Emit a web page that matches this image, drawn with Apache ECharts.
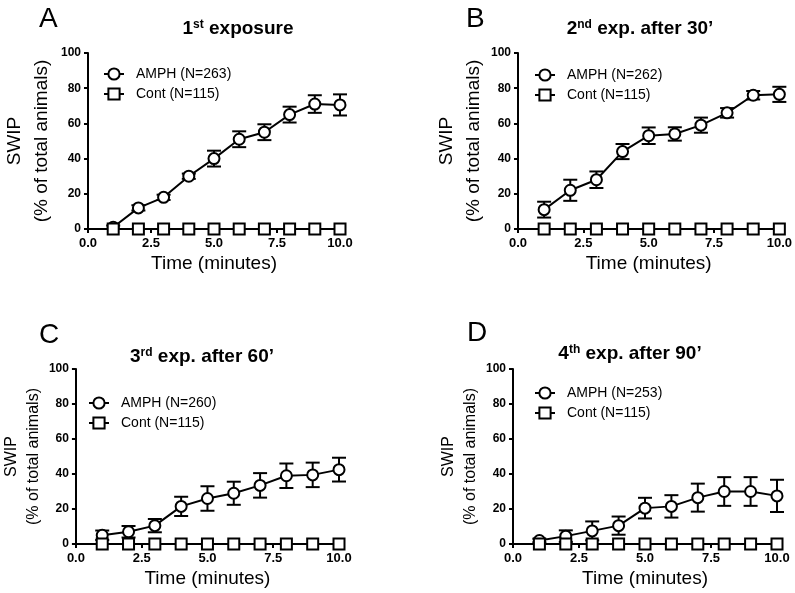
<!DOCTYPE html>
<html><head><meta charset="utf-8">
<script src="https://cdn.jsdelivr.net/npm/echarts@6/dist/echarts.min.js"></script>
<style>html,body{margin:0;padding:0;background:#fff}#c{width:795px;height:593px}</style>
</head><body><div id="c"></div>
<script>
const minutes = [1,2,3,4,5,6,7,8,9,10];
const xTicks = [0, 2.5, 5, 7.5, 10];
const yTicks = [0, 20, 40, 60, 80, 100];
const panelLetters = ['A','B','C','D'];
const panelTitles = ['1{s|st} exposure', '2{s|nd} exp. after 30\u2019', '3{s|rd} exp. after 60\u2019', '4{s|th} exp. after 90\u2019'];
const amphNames = ['AMPH (N=263)', 'AMPH (N=262)', 'AMPH (N=260)', 'AMPH (N=253)'];
const contName = 'Cont (N=115)';
const amphA = [1, 12, 18, 30, 40, 51, 55, 65, 71, 70.5];
const errA  = [1, 1.5, 1.5, 1.5, 4.5, 4.5, 4.5, 4.5, 5, 6];
const amphB = [11, 22, 28, 44, 53, 54, 59, 66, 76, 76.5];
const errB  = [4.5, 6, 4.7, 4.3, 4.7, 3.8, 4.3, 2.7, 2.4, 4.3];
const amphC = [5, 7, 10.5, 21.5, 26, 29, 33.5, 39, 39.5, 42.5];
const errC  = [2.7, 3.3, 3.8, 5.5, 7, 6.6, 7, 7, 7, 6.8];
const amphD = [2, 4.5, 7.5, 10.5, 20.5, 21.5, 26.5, 30, 30, 27.5];
const errD  = [1, 3.3, 5.4, 5.2, 5.9, 6.4, 8, 8.2, 8.2, 9.2];
const contA = [0,0,0,0,0,0,0,0,0,0];
const contB = [0,0,0,0,0,0,0,0,0,0];
const contC = [0,0,0,0,0,0,0,0,0,0];
const contD = [0,0,0,0,0,0,0,0,0,0];

const amph = [amphA, amphB, amphC, amphD];
const errs = [errA, errB, errC, errD];
const conts = [contA, contB, contC, contD];

const FONT = '"Liberation Sans", Arial, sans-serif';
const grids = [
  {left: 79, top: 53, width: 261, height: 176},
  {left: 518, top: 53, width: 262, height: 176},
  {left: 69, top: 369, width: 270, height: 175},
  {left: 513, top: 369, width: 264, height: 175}
];
const yNameGap = [33, 31, 27, 28];
const yNameSize = [19, 19, 16, 16];
const yNameLH = [27, 27, 22, 22];
const titlePos = [[233, 14], [635, 14], [197, 342], [625, 339]];
const letterPos = [[34, 0], [461, 0], [34, 316], [462, 314]];
const legendPos = [[103, 67], [534, 68], [88, 396], [534, 386]];

const option = {
  animation: false,
  backgroundColor: '#fff',
  textStyle: {fontFamily: FONT},
  title: [],
  grid: grids.map(g => Object.assign({containLabel: false}, g)),
  xAxis: [], yAxis: [], legend: [], series: []
};

for (let i = 0; i < 4; i++) {
  option.title.push({
    text: panelTitles[i], left: titlePos[i][0], top: titlePos[i][1], textAlign: 'center',
    textStyle: {fontFamily: FONT, fontSize: 19, fontWeight: 'bold', color: '#000',
      rich: {s: {fontFamily: FONT, fontSize: 12, fontWeight: 'bold', verticalAlign: 'top', color: '#000'}}}
  });
  option.title.push({
    text: panelLetters[i], left: letterPos[i][0], top: letterPos[i][1],
    textStyle: {fontFamily: FONT, fontSize: 28, fontWeight: 'normal', color: '#000'}
  });
  option.xAxis.push({
    type: 'value', gridIndex: i, min: xTicks[0], max: xTicks[xTicks.length-1], interval: 2.5,
    name: 'Time (minutes)', nameLocation: 'middle', nameGap: 25,
    nameTextStyle: {fontFamily: FONT, fontSize: 19, color: '#000'},
    axisLine: {show: true, onZero: false, lineStyle: {color: '#000', width: 2}},
    axisTick: {show: true, length: 4, lineStyle: {color: '#000', width: 2}},
    axisLabel: {fontFamily: FONT, fontSize: 13, fontWeight: 'bold', color: '#000', margin: 8,
      formatter: v => v.toFixed(1)},
    splitLine: {show: false}
  });
  option.yAxis.push({
    type: 'value', gridIndex: i, min: yTicks[0], max: yTicks[yTicks.length-1], interval: 20,
    name: 'SWIP\n(% of total animals)', nameLocation: 'middle', nameGap: yNameGap[i], nameRotate: 90,
    nameTextStyle: {fontFamily: FONT, fontSize: yNameSize[i], color: '#000', lineHeight: yNameLH[i], align: 'center'},
    axisLine: {show: true, lineStyle: {color: '#000', width: 2}},
    axisTick: {show: true, length: 4, lineStyle: {color: '#000', width: 2}},
    axisLabel: {fontFamily: FONT, fontSize: 12, fontWeight: 'bold', color: '#000', margin: 7},
    splitLine: {show: false}
  });
  option.legend.push({
    orient: 'vertical', left: legendPos[i][0], top: legendPos[i][1], padding: 0,
    itemWidth: 20, itemHeight: 14, itemGap: 6,
    data: [amphNames[i], contName],
    textStyle: {fontFamily: FONT, fontSize: 14, color: '#000', padding: [0, 0, 0, 7]}
  });
  option.series.push({
    type: 'line', name: amphNames[i], xAxisIndex: i, yAxisIndex: i,
    data: minutes.map((m, k) => [m, amph[i][k]]),
    symbol: 'circle', symbolSize: 11, z: 3,
    lineStyle: {color: '#000', width: 2},
    itemStyle: {color: '#fff', borderColor: '#000', borderWidth: 2}
  });
  option.series.push({
    type: 'custom', name: 'err' + i, xAxisIndex: i, yAxisIndex: i, z: 2,
    data: minutes.map((m, k) => [m, amph[i][k] - errs[i][k], amph[i][k] + errs[i][k]]),
    clip: false,
    renderItem: (params, api) => {
      const x = api.value(0);
      const lo = api.coord([x, api.value(1)]);
      const hi = api.coord([x, api.value(2)]);
      const w = 7;
      const st = {stroke: '#000', lineWidth: 2};
      return {type: 'group', children: [
        {type: 'line', shape: {x1: lo[0], y1: lo[1], x2: hi[0], y2: hi[1]}, style: st},
        {type: 'line', shape: {x1: lo[0]-w, y1: lo[1], x2: lo[0]+w, y2: lo[1]}, style: st},
        {type: 'line', shape: {x1: hi[0]-w, y1: hi[1], x2: hi[0]+w, y2: hi[1]}, style: st}
      ]};
    }
  });
  option.series.push({
    type: 'line', name: contName, xAxisIndex: i, yAxisIndex: i,
    data: minutes.map((m, k) => [m, conts[i][k]]),
    symbol: 'rect', symbolSize: 11, z: 4,
    lineStyle: {color: '#000', width: 2},
    itemStyle: {color: '#fff', borderColor: '#000', borderWidth: 2}
  });
}

const chart = echarts.init(document.getElementById('c'), null, {renderer: 'canvas'});
chart.setOption(option);
</script></body></html>
